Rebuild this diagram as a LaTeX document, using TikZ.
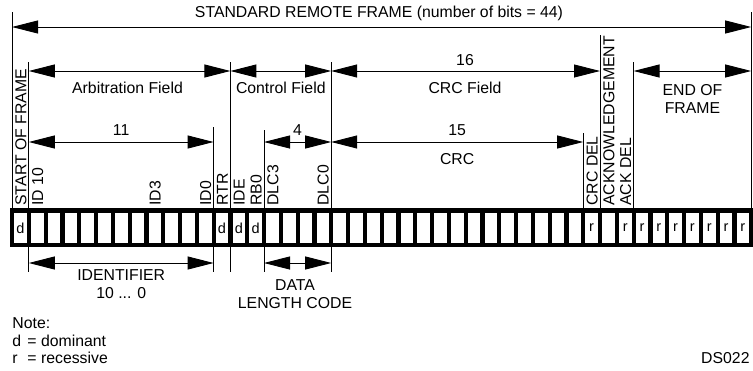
\documentclass[tikz,border=0pt]{standalone}
\usepackage{fontspec}
\setmainfont{Liberation Sans}
\usetikzlibrary{arrows.meta}
\begin{document}
\begin{tikzpicture}[x=1pt,y=-1pt,line width=0.9pt,
  dim/.style={{Triangle[length=26pt,width=13pt]}-{Triangle[length=26pt,width=13pt]},line width=0.9pt},
  vline/.style={line width=0.9pt},
  lbl/.style={font=\fontsize{15.8}{18}\selectfont,inner sep=0pt,anchor=base},
  lbll/.style={lbl,anchor=base west},
  rlbl/.style={font=\fontsize{15.8}{18}\selectfont,inner sep=0pt,rotate=90,anchor=base west},
  cellbox/.style={fill=white,draw=none,minimum width=12.6pt,minimum height=30pt,inner sep=0pt},
  bitlbl/.style={font=\fontsize{14.5}{16}\selectfont,inner sep=0pt}]
\useasboundingbox (0,0) rectangle (753,370);
% boundary coordinates at strip top
\foreach \k in {0,...,44} \coordinate (b\k) at ({12+16.8*\k},208);
\coordinate (h12) at (0,12);
\coordinate (h35) at (0,35);
\coordinate (h62) at (0,62);
\coordinate (h127) at (0,127);
\coordinate (h130) at (0,130);
\coordinate (h133) at (0,133);
\coordinate (yTop) at (0,27);
\coordinate (yF) at (0,71);
\coordinate (yS) at (0,142);
\coordinate (yB) at (0,263);
\coordinate (yEnd) at (0,272);
% vertical lines
\draw[vline] (b0|-h12) -- (b0);
\draw[vline] (b44|-h12) -- (b44);
\draw[vline] (b1|-h62) -- (b1|-yEnd);
\draw[vline] (b12|-h127) -- (b12|-yEnd);
\draw[vline] (b13|-h62) -- (b13|-yEnd);
\draw[vline] (b15|-h130) -- (b15|-yEnd);
\draw[vline] (b19|-h62) -- (b19|-yEnd);
\draw[vline] (b34|-h133) -- (b34);
\draw[vline] (b35|-h35) -- (b35);
\draw[vline] (b37|-h62) -- (b37);
% bit strip
\fill[black] ([xshift=-2.1pt]b0) rectangle ([xshift=2.1pt,yshift=-39pt]b44);
\foreach \k in {0,...,43} \node[cellbox] (c\k) at ({12+16.8*\k+8.4},228) {};
\foreach \k/\t in {0/d,12/d,13/d,14/d,34/r,36/r,37/r,38/r,39/r,40/r,41/r,42/r,43/r}
  \node[bitlbl] (L\k) at (c\k.center) {\t};
% rotated labels
\foreach \k/\t in {1/START OF FRAME,2/ID 10,9/ID3,12/ID0,13/RTR,14/IDE,15/RB0,16/DLC3,19/DLC0,35/CRC DEL,36/ACKNOWLEDGEMENT,37/ACK DEL}
  \node[rlbl] (R\k) at ({12+16.8*\k-2.5},206) {\t};
% dimension arrows
\draw[dim] (b0|-yTop) -- (b44|-yTop);
\draw[dim] (b1|-yF) -- (b13|-yF);
\draw[dim] (b13|-yF) -- (b19|-yF);
\draw[dim] (b19|-yF) -- (b35|-yF);
\draw[dim] (b37|-yF) -- (b44|-yF);
\draw[dim] (b1|-yS) -- (b12|-yS);
\draw[dim] (b15|-yS) -- (b19|-yS);
\draw[dim] (b19|-yS) -- (b34|-yS);
\draw[dim] (b1|-yB) -- (b12|-yB);
\draw[dim] (b15|-yB) -- (b19|-yB);
% texts
\node[lbl] (title) at (379,17) {STANDARD REMOTE FRAME (number of bits = 44)};
\node[lbl] (arb) at (127.5,93) {Arbitration Field};
\node[lbl] (ctl) at (280.8,93) {Control Field};
\node[lbl] (n16) at (465,65) {16};
\node[lbl] (crcf) at (465,93) {CRC Field};
\node[lbl] (eof1) at (692.4,95) {END OF};
\node[lbl] (eof2) at (692.4,113) {FRAME};
\node[lbl] (n11) at (121.2,135) {11};
\node[lbl] (n4) at (297.6,135) {4};
\node[lbl] (n15) at (457.2,135) {15};
\node[lbl] (crc) at (457.2,164) {CRC};
\node[lbl] (idf1) at (121.2,280) {IDENTIFIER};
\node[lbl] (idf2) at (121.2,298) {10 ... 0};
\node[lbl] (dlc1) at (295,290) {DATA};
\node[lbl] (dlc2) at (295,308) {LENGTH CODE};
\node[lbll] (note) at (12,328) {Note:};
\node[lbll] (nd) at (12,346) {\makebox[15pt][l]{d}= dominant};
\node[lbll] (nr) at (12,363) {\makebox[15pt][l]{r}= recessive};
\node[lbl,anchor=base east] (ds) at (750,363) {DS022};
\end{tikzpicture}
\end{document}
